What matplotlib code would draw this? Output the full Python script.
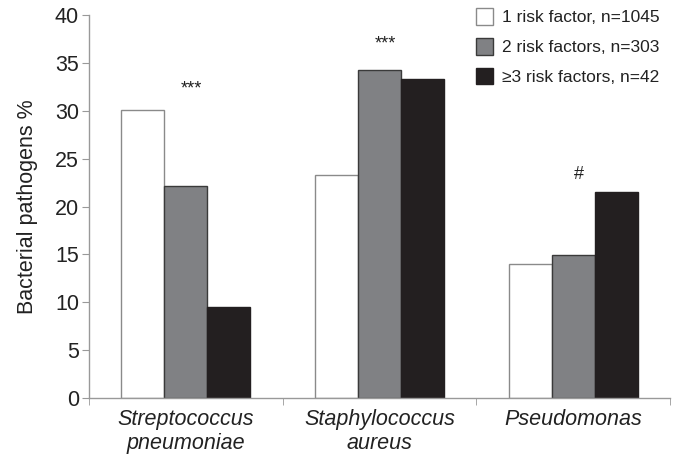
import matplotlib.pyplot as plt
import numpy as np

plt.rcParams['font.family'] = ['Liberation Sans', 'DejaVu Sans']

categories = ['Streptococcus\npneumoniae', 'Staphylococcus\naureus', 'Pseudomonas']
series_labels = ['1 risk factor, n=1045', '2 risk factors, n=303', '\u22653 risk factors, n=42']
one_rf = [30.1, 23.3, 14.0]
two_rf = [22.1, 34.3, 14.9]
three_rf = [9.5, 33.3, 21.5]
annotations = ['***', '***', '#']
annot_y = [32.3, 37.0, 23.4]

fills = ['white', '#808184', '#231f20']
edges = ['#8a8a8a', '#3a3a3a', '#231f20']

fig = plt.figure(figsize=(6.78, 4.55), dpi=100)
ax = fig.add_axes([0.131, 0.125, 0.857, 0.842])

x = np.arange(len(categories))
w = 0.222
for i, (vals, lab) in enumerate(zip([one_rf, two_rf, three_rf], series_labels)):
    ax.bar(x + (i - 1) * w, vals, w, color=fills[i], edgecolor=edges[i],
           linewidth=1.0, label=lab)

for xi, txt, yy in zip(x, annotations, annot_y):
    ax.text(xi + 0.03, yy, txt, ha='center', va='center', fontsize=13, color='#222222')

ax.set_xlim(-0.5, 2.5)
ax.set_ylim(0, 40)
ax.set_yticks(range(0, 41, 5))
ax.set_xticks(x)
ax.set_xticklabels(categories, fontsize=15.5, style='italic', color='#222222',
                   linespacing=1.2)
ax.tick_params(axis='x', length=0, pad=8)
ax.set_xticks([-0.5, 0.5, 1.5, 2.5], minor=True)
ax.tick_params(axis='x', which='minor', length=5, color='#999999', direction='out')
ax.tick_params(axis='y', labelsize=15.5, length=5, color='#999999', labelcolor='#222222', pad=2)
ax.set_ylabel('Bacterial pathogens %', fontsize=15.5, color='#222222', labelpad=12)

for s in ['top', 'right']:
    ax.spines[s].set_visible(False)
for s in ['left', 'bottom']:
    ax.spines[s].set_color('#999999')
    ax.spines[s].set_linewidth(1.0)

leg = ax.legend(loc='upper right', bbox_to_anchor=(1.0, 1.045), frameon=False,
                fontsize=12.5, handlelength=1.0, handleheight=1.1, handletextpad=0.5,
                labelspacing=0.72, borderaxespad=0.2)
for t in leg.get_texts():
    t.set_color('#222222')

fig.savefig('out.png', dpi=100)
